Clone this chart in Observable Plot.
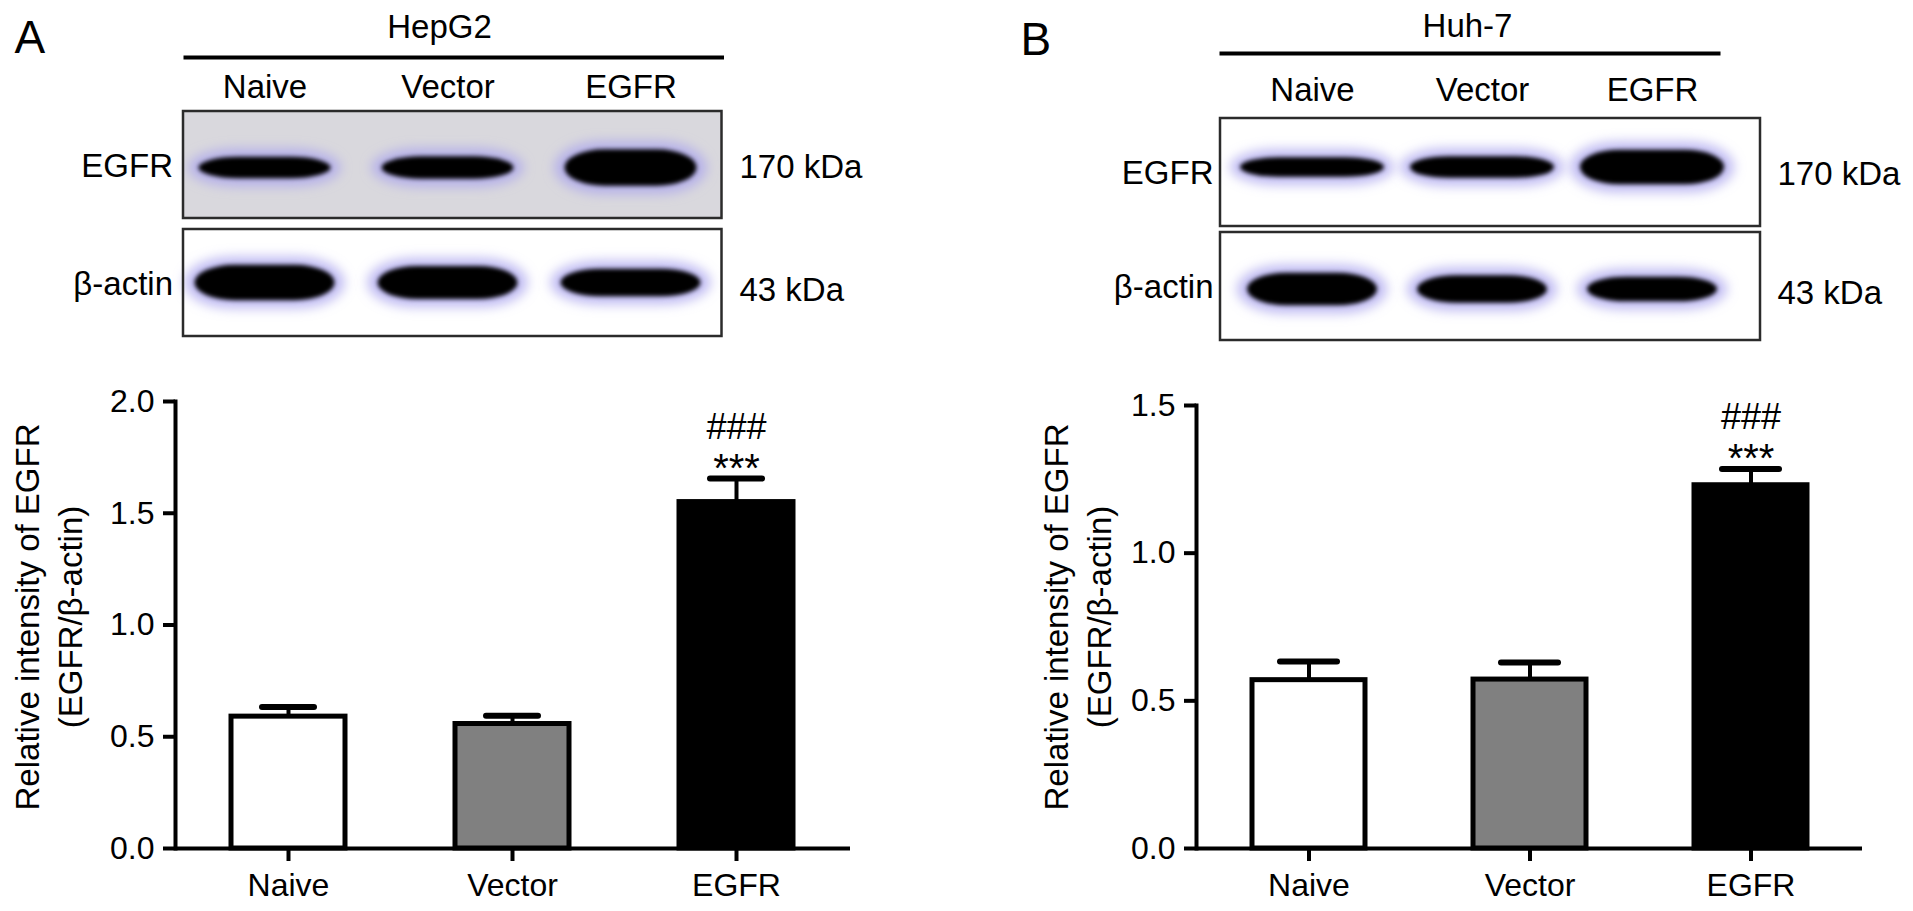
<!DOCTYPE html>
<html><head><meta charset="utf-8">
<script src="https://cdn.jsdelivr.net/npm/d3@7"></script>
<script src="https://cdn.jsdelivr.net/npm/@observablehq/plot@0.6"></script>
<style>
html,body{margin:0;padding:0;background:#fff;}
#root{position:relative;width:1913px;height:911px;overflow:hidden;background:#fff;}
.panel{position:absolute;}
.panel svg{max-width:none !important;display:block;}
</style></head><body><div id="root"></div>
<script>
// ---------------- data ----------------
const groups = ["Naive", "Vector", "EGFR"];
const cellLines = ["HepG2", "Huh-7"];
const panelLetters = ["A", "B"];
const hepg2Mean = [0.59, 0.557, 1.55];
const hepg2Err = [0.043, 0.037, 0.105];
const huh7Mean = [0.57, 0.572, 1.23];
const huh7Err = [0.063, 0.058, 0.055];
const starLabels = ["", "", "***"];
const hashLabels = ["", "", "###"];
const hepg2Ticks = [0, 0.5, 1.0, 1.5, 2.0];
const huh7Ticks = [0, 0.5, 1.0, 1.5];
const yTitle = "Relative intensity of EGFR\n(EGFR/β-actin)";
const blotRows = ["EGFR", "β-actin"];
const kdaLabels = ["170 kDa", "43 kDa"];
// relative band intensity (thickness) per lane
const hepg2EgfrBand = [0.6, 0.62, 1.0];
const hepg2ActinBand = [1.0, 0.94, 0.78];
const huh7EgfrBand = [0.57, 0.63, 1.0];
const huh7ActinBand = [1.0, 0.85, 0.76];

// ---------------- helpers ----------------
const FONT = '"Liberation Sans", Arial, Helvetica, sans-serif';
const HALO = "#a9a3ee", CORE = "#060606";
const root = document.getElementById("root");
function place(el, left, top, w) {
  const d = document.createElement("div");
  d.className = "panel";
  d.style.left = left + "px"; d.style.top = top + "px"; d.style.width = w + "px";
  d.appendChild(el); root.appendChild(d);
}
function addBlur(svg, id, sd, fill) {
  const s = d3.select(svg);
  let defs = s.select("defs");
  if (defs.empty()) defs = s.insert("defs", ":first-child");
  defs.append("filter").attr("id", id)
    .attr("x", "-40%").attr("y", "-150%").attr("width", "180%").attr("height", "400%")
    .append("feGaussianBlur").attr("stdDeviation", sd);
  svg.querySelectorAll("g").forEach(g => {
    if ((g.getAttribute("fill") || "").toLowerCase() === fill) {
      g.setAttribute("filter", `url(#${id})`);
      g.style.filter = `url(#${id})`;
    }
  });
}

function barChart(o) {
  const data = groups.map((g, i) => ({group: g, value: o.mean[i], top: o.mean[i] + o.err[i], stars: starLabels[i], hashes: hashLabels[i]}));
  return Plot.plot({
    width: o.width, height: 531,
    marginLeft: o.marginLeft, marginRight: o.marginRight, marginTop: o.marginTop, marginBottom: 63,
    style: {fontFamily: FONT, fontSize: "32px", color: "black", background: "transparent", overflow: "visible"},
    x: {domain: groups, paddingInner: 0.49, paddingOuter: 0.25},
    y: {domain: [0, o.ymax]},
    color: {domain: groups, range: ["#ffffff", "#808080", "#000000"]},
    marks: [
      Plot.barY(data, {x: "group", y: "value", fill: "group", stroke: "black", strokeWidth: 5}),
      Plot.ruleX(data, {x: "group", y1: "value", y2: "top", stroke: "black", strokeWidth: 4}),
      Plot.tickY(data, {x: "group", y: "top", stroke: "black", strokeWidth: 6, strokeLinecap: "round", inset: o.capInset}),
      Plot.text(data, {x: "group", y: "top", text: "stars", lineAnchor: "bottom", dy: 3, fontSize: 40}),
      Plot.text(data, {x: "group", y: "top", text: "hashes", lineAnchor: "bottom", dy: -40, fontSize: 36}),
      Plot.ruleY([0], {stroke: "black", strokeWidth: 4}),
      Plot.frame({anchor: "left", stroke: "black", strokeWidth: 4}),
      Plot.axisY({ticks: o.ticks, tickFormat: d3.format(".1f"), tickSize: 12, tickPadding: 9, strokeWidth: 4, label: null, fontSize: 32}),
      Plot.axisX({tickSize: 13, tickPadding: 12, strokeWidth: 4, label: null, fontSize: 32}),
      Plot.text([yTitle], {frameAnchor: "left", textAnchor: "middle", lineAnchor: "middle", rotate: -90, dx: o.titleDx, dy: o.titleDy, lineHeight: 1.3, fontSize: 33})
    ]
  });
}

function blotChart(o) {
  const height = 350;
  const laneStep = (o.width - o.marginLeft - o.marginRight) / 3;
  const rowScale = d3.scaleBand().domain(blotRows).range([o.marginTop, height - o.marginBottom]).paddingInner(o.rowPad).paddingOuter(0);
  const rowBw = rowScale.bandwidth();
  const bandMarks = [];
  const rowsSpec = [
    {row: blotRows[0], intens: o.egfrBand, maxH: o.egfrMaxH, off: o.egfrOff, inset: o.egfrInset},
    {row: blotRows[1], intens: o.actinBand, maxH: o.actinMaxH, off: o.actinOff, inset: o.actinInset}
  ];
  for (const rs of rowsSpec) {
    const w = laneStep - 2 * rs.inset;
    groups.forEach((g, i) => {
      const t = rs.intens[i] * rs.maxH;
      const pad = (rowBw - t) / 2;
      const datum = [{lane: g, row: rs.row}];
      bandMarks.push(Plot.cell(datum, {x: "lane", y: "row", fill: HALO, fillOpacity: 0.75,
        insetLeft: rs.inset - 10, insetRight: rs.inset - 10, insetTop: pad + rs.off - 8, insetBottom: pad - rs.off - 8,
        rx: Math.min(48, w / 2 + 10), ry: t / 2 + 8}));
      bandMarks.push(Plot.cell(datum, {x: "lane", y: "row", fill: CORE,
        insetLeft: rs.inset, insetRight: rs.inset, insetTop: pad + rs.off, insetBottom: pad - rs.off,
        rx: Math.min(40, w / 2), ry: t / 2}));
    });
  }
  const svg = Plot.plot({
    width: o.width, height,
    marginLeft: o.marginLeft, marginRight: o.marginRight, marginTop: o.marginTop, marginBottom: o.marginBottom,
    style: {fontFamily: FONT, fontSize: "32px", color: "black", background: "transparent", overflow: "visible"},
    x: {domain: groups, padding: 0},
    y: {domain: blotRows, paddingInner: o.rowPad, paddingOuter: 0},
    marks: [
      Plot.cell([blotRows[0]], {y: d => d, fill: o.egfrBg, insetLeft: o.boxInsetL, insetRight: o.boxInsetR}),
      Plot.cell([blotRows[1]], {y: d => d, fill: "#ffffff", insetLeft: o.boxInsetL, insetRight: o.boxInsetR}),
      ...bandMarks,
      Plot.cell(blotRows, {y: d => d, fill: "none", stroke: "#2b2b2b", strokeWidth: 2.5, insetLeft: o.boxInsetL, insetRight: o.boxInsetR}),
      Plot.frame({anchor: "top", stroke: "black", strokeWidth: 4, insetLeft: o.lineInsetL, insetRight: o.lineInsetR, dy: o.lineDy}),
      Plot.text([o.line], {frameAnchor: "top", textAnchor: "middle", dx: o.titleDx, dy: o.titleDy, lineAnchor: "middle", fontSize: 33}),
      Plot.text([o.letter], {frameAnchor: "top-left", dx: o.letterDx, dy: o.letterDy, textAnchor: "start", lineAnchor: "top", fontSize: 46}),
      Plot.axisX({anchor: "top", tickSize: 0, tickPadding: o.lanePad, label: null, fontSize: 33}),
      Plot.axisY({anchor: "left", tickSize: 0, tickPadding: o.rowLabelPad, label: null, fontSize: 33, dy: 1}),
      Plot.text([0], {y: () => blotRows[0], text: () => kdaLabels[0], frameAnchor: "right", textAnchor: "start", dx: o.kdaDx, dy: o.kdaDy[0], fontSize: 33}),
      Plot.text([1], {y: () => blotRows[1], text: () => kdaLabels[1], frameAnchor: "right", textAnchor: "start", dx: o.kdaDx, dy: o.kdaDy[1], fontSize: 33})
    ]
  });
  addBlur(svg, o.uid + "-halo", 6, HALO);
  addBlur(svg, o.uid + "-core", 2.2, CORE);
  return svg;
}

// ---------------- panel A (HepG2) ----------------
place(blotChart({
  uid: "a", line: cellLines[0], letter: panelLetters[0], width: 900,
  marginLeft: 172.5, marginRight: 178.5, marginTop: 111, marginBottom: 13, rowPad: 0.09,
  boxInsetL: 10.5, boxInsetR: 0, lineInsetL: 12.5, lineInsetR: 0, lineDy: -54,
  titleDx: -8, titleDy: -84, letterDx: -158.5, letterDy: -91,
  lanePad: 14, rowLabelPad: 0, kdaDx: 17.5, kdaDy: [2, 7.5],
  egfrBand: hepg2EgfrBand, actinBand: hepg2ActinBand, egfrBg: "#d9d8dd",
  egfrMaxH: 37, actinMaxH: 36, egfrOff: 3, actinOff: 0, egfrInset: 25.5, actinInset: 21.5
}), 0, 0, 900);

place(barChart({
  mean: hepg2Mean, err: hepg2Err, ticks: hepg2Ticks, ymax: 2.0,
  width: 870, marginLeft: 175, marginRight: 20, marginTop: 21, capInset: 31,
  titleDx: -128.5, titleDy: -8
}), 0, 380, 870);

// ---------------- panel B (Huh-7) ----------------
place(blotChart({
  uid: "b", line: cellLines[1], letter: panelLetters[1], width: 913,
  marginLeft: 227, marginRight: 176, marginTop: 117, marginBottom: 10, rowPad: 0.055,
  boxInsetL: -7, boxInsetR: -23, lineInsetL: -6, lineInsetR: 19, lineDy: -64,
  titleDx: -15, titleDy: -91, letterDx: -207, letterDy: -95,
  lanePad: 17, rowLabelPad: 14, kdaDx: 40, kdaDy: [2, 6.5],
  egfrBand: huh7EgfrBand, actinBand: huh7ActinBand, egfrBg: "#ffffff",
  egfrMaxH: 35, actinMaxH: 33, egfrOff: -5, actinOff: 3, egfrInset: 13, actinInset: 20
}), 1000, 0, 913);

place(barChart({
  mean: huh7Mean, err: huh7Err, ticks: huh7Ticks, ymax: 1.5,
  width: 913, marginLeft: 196, marginRight: 51, marginTop: 25, capInset: 28,
  titleDx: -120.5, titleDy: -10
}), 1000, 380, 913);
</script></body></html>
